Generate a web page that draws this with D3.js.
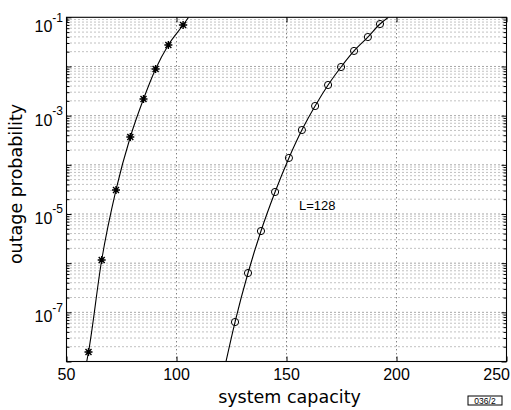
<!DOCTYPE html>
<html>
<head>
<meta charset="utf-8">
<script src="https://cdn.jsdelivr.net/npm/d3@7"></script>
<style>
  html, body { margin: 0; padding: 0; background: #fff; }
  svg { display: block; }
</style>
</head>
<body>
<svg id="chart" width="511" height="410"></svg>
<script>
// ---- data ----
const starCapacity = [60, 66, 72.5, 79, 85, 90.5, 96.3, 103];
const starOutage   = [1.56e-8, 1.16e-6, 3.08e-5, 3.68e-4, 2.18e-3, 8.9e-3, 2.74e-2, 6.97e-2];
const starEndCapacity = [59.2, 105.5];
const starEndOutage   = [1e-8, 1e-1];

const circleCapacity = [126.6, 132.5, 138.4, 144.8, 151.1, 157.0, 163.0, 168.9, 174.8, 180.7, 187.0, 192.5];
const circleOutage   = [6.35e-8, 6.3e-7, 4.5e-6, 2.8e-5, 1.38e-4, 5.1e-4, 1.57e-3, 4.2e-3, 9.75e-3, 2.07e-2, 3.97e-2, 7.3e-2];
const circleEndCapacity = [122.5, 196.3];
const circleEndOutage   = [1e-8, 1e-1];

const xTicks = [50, 100, 150, 200, 250];
const xGrid = [100, 150, 200];
const yLabelTicks = [1e-1, 1e-3, 1e-5, 1e-7];
const yLabelExponents = ["-1", "-3", "-5", "-7"];
const annotation = "L=128";
const xTitle = "system capacity";
const yTitle = "outage probability";
const figureCode = "036/2";

// ---- layout ----
const svg = d3.select("#chart");
const pLeft = 66.5, pRight = 506.5, pTop = 17.3, pBottom = 361.5;

const x = d3.scaleLinear().domain([50, 250]).range([pLeft, pRight]);
const y = d3.scaleLog().domain([1e-8, 1e-1]).range([pBottom, pTop]);

// decades and minor values
const decades = d3.range(-8, -1).map(e => Math.pow(10, e));
const majors = decades.concat([1e-1]);
const minors = [];
decades.forEach(d => { for (let k = 2; k <= 9; k++) minors.push(d * k); });

// clip
svg.append("defs").append("clipPath").attr("id", "plotclip")
  .append("rect").attr("x", pLeft).attr("y", pTop).attr("width", pRight - pLeft).attr("height", pBottom - pTop);

// grid
const grid = svg.append("g").attr("stroke", "#222").attr("stroke-width", 0.8)
  .attr("stroke-dasharray", "1,3").attr("fill", "none");
grid.selectAll("line.hmin").data(minors).join("line")
  .attr("x1", pLeft).attr("x2", pRight)
  .attr("y1", d => y(d)).attr("y2", d => y(d)).attr("stroke-opacity", 0.7);
grid.selectAll("line.hmaj").data(majors.slice(1, -1)).join("line")
  .attr("x1", pLeft).attr("x2", pRight)
  .attr("y1", d => y(d)).attr("y2", d => y(d));
grid.selectAll("line.v").data(xGrid).join("line")
  .attr("x1", d => x(d)).attr("x2", d => x(d))
  .attr("y1", pTop).attr("y2", pBottom);

// axes with inward ticks
const axisG = svg.append("g");
const yMajLeft = d3.axisLeft(y).tickValues(majors).tickSize(-5).tickFormat("");
const yMinLeft = d3.axisLeft(y).tickValues(minors).tickSize(-3).tickFormat("");
const yMajRight = d3.axisRight(y).tickValues(majors).tickSize(-5).tickFormat("");
const yMinRight = d3.axisRight(y).tickValues(minors).tickSize(-3).tickFormat("");
const xBottom = d3.axisBottom(x).tickValues(xTicks).tickSize(-5).tickFormat("");
const xTop = d3.axisTop(x).tickValues(xTicks).tickSize(-5).tickFormat("");

[[yMajLeft, `translate(${pLeft},0)`], [yMinLeft, `translate(${pLeft},0)`],
 [yMajRight, `translate(${pRight},0)`], [yMinRight, `translate(${pRight},0)`],
 [xBottom, `translate(0,${pBottom})`], [xTop, `translate(0,${pTop})`]].forEach(([ax, tr]) => {
  const g = axisG.append("g").attr("transform", tr).call(ax);
  g.select(".domain").remove();
  g.selectAll(".tick line").attr("stroke", "#000").attr("stroke-width", 1);
});

// frame
svg.append("rect").attr("x", pLeft).attr("y", pTop)
  .attr("width", pRight - pLeft).attr("height", pBottom - pTop)
  .attr("fill", "none").attr("stroke", "#000").attr("stroke-width", 1.1);

// x tick labels (last one kept inside the page, right-aligned like the reference)
svg.append("g").selectAll("text").data(xTicks).join("text")
  .attr("x", (d, i) => i === xTicks.length - 1 ? 510 : x(d)).attr("y", 380)
  .attr("text-anchor", (d, i) => i === xTicks.length - 1 ? "end" : "middle")
  .attr("font-family", "Liberation Sans, Arial, sans-serif").attr("font-size", 16)
  .attr("fill", "#000").text(d => d);

// y tick labels 10^k
const yl = svg.append("g").selectAll("text").data(yLabelTicks).join("text")
  .attr("x", 63).attr("y", d => Math.max(y(d) + 10, 32))
  .attr("text-anchor", "end")
  .attr("font-family", "Liberation Sans, Arial, sans-serif").attr("fill", "#000");
yl.append("tspan").attr("font-size", 16).text("10");
yl.append("tspan").attr("font-size", 12).attr("dy", -10.5).text((d, i) => yLabelExponents[i]);

// axis titles
svg.append("text").attr("x", 289.5).attr("y", 403)
  .attr("text-anchor", "middle")
  .attr("font-family", "DejaVu Sans, sans-serif").attr("font-size", 17.5)
  .attr("fill", "#000").text(xTitle);
svg.append("text").attr("transform", "translate(22,184) rotate(-90)")
  .attr("text-anchor", "middle")
  .attr("font-family", "DejaVu Sans, sans-serif").attr("font-size", 17.5)
  .attr("fill", "#000").text(yTitle);

// curves
const line = d3.line().x(d => x(d[0])).y(d => y(d[1])).curve(d3.curveMonotoneX);
const plot = svg.append("g").attr("clip-path", "url(#plotclip)");

function series(caps, outs, endCaps, endOuts) {
  const pts = caps.map((c, i) => [c, outs[i]]);
  const full = [[endCaps[0], endOuts[0]]].concat(pts, [[endCaps[1], endOuts[1]]]);
  return { pts, full };
}
const sA = series(starCapacity, starOutage, starEndCapacity, starEndOutage);
const sB = series(circleCapacity, circleOutage, circleEndCapacity, circleEndOutage);

[sA, sB].forEach(s => {
  plot.append("path").datum(s.full).attr("d", line)
    .attr("fill", "none").attr("stroke", "#000").attr("stroke-width", 1.1);
});

// star markers
const r = 4;
const starPath = `M${-r},0L${r},0M0,${-r}L0,${r}M${-r*0.75},${-r*0.75}L${r*0.75},${r*0.75}M${-r*0.75},${r*0.75}L${r*0.75},${-r*0.75}`;
plot.selectAll("path.star").data(sA.pts).join("path")
  .attr("class", "star")
  .attr("transform", d => `translate(${x(d[0])},${y(d[1])})`)
  .attr("d", starPath).attr("stroke", "#000").attr("stroke-width", 1.4).attr("fill", "none");

// circle markers
plot.selectAll("circle.mk").data(sB.pts).join("circle")
  .attr("class", "mk")
  .attr("cx", d => x(d[0])).attr("cy", d => y(d[1])).attr("r", 3.6)
  .attr("fill", "none").attr("stroke", "#000").attr("stroke-width", 1);

// annotation
svg.append("text").attr("x", 299).attr("y", 210)
  .attr("font-family", "Liberation Sans, Arial, sans-serif").attr("font-size", 13)
  .attr("fill", "#000").text(annotation);

// figure code box
svg.append("rect").attr("x", 468).attr("y", 396).attr("width", 34).attr("height", 9)
  .attr("fill", "none").attr("stroke", "#000").attr("stroke-width", 1);
svg.append("text").attr("x", 485).attr("y", 403.5).attr("text-anchor", "middle")
  .attr("font-family", "Liberation Sans, Arial, sans-serif").attr("font-size", 8.5)
  .attr("fill", "#000").text(figureCode);
</script>
</body>
</html>
